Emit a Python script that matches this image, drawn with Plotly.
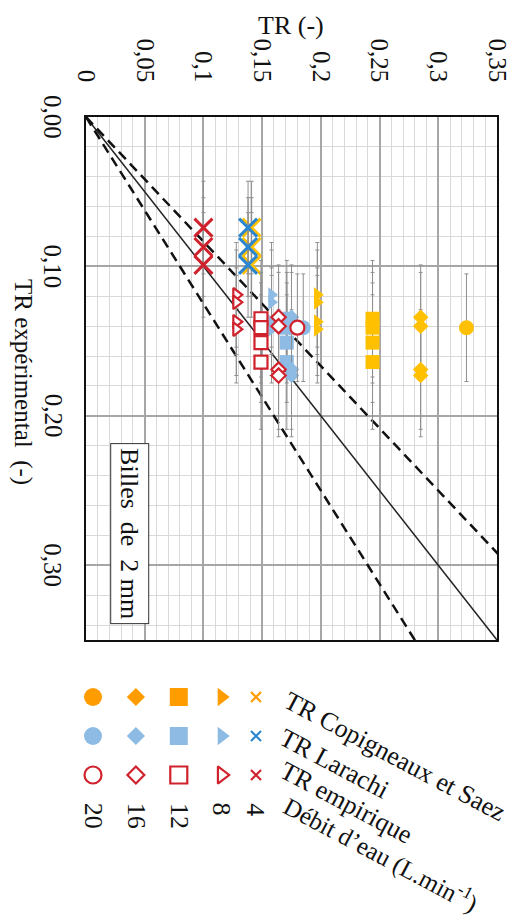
import plotly.graph_objects as go

# The page body keeps the browser's default 8 px margin, so the figure is
# sized to fill the rest of the 526x923 window.
OFF = 8
W, H = 526 - OFF, 923 - OFF
FONT = "Liberation Serif, Times New Roman, serif"

# ---------------- data ----------------
flows = [4, 8, 12, 16, 20]                     # débit d'eau (L/min)
flow_labels = ["4", "8", "12", "16", "20"]

exp_4 = [0.074, 0.087, 0.099]
exp_8 = [0.119, 0.124, 0.137, 0.142]
exp_12 = [0.135, 0.141, 0.151, 0.164]
exp_16 = [0.134, 0.140, 0.169, 0.173]
exp_20 = [0.141]

err_4 = [0.031, 0.033, 0.035]
err_8 = [0.035, 0.035, 0.036, 0.036]
err_12 = [0.039, 0.037, 0.040, 0.045]
err_16 = [0.035, 0.036, 0.040, 0.041]
err_20 = [0.036]

tr_copigneaux = [0.141, 0.197, 0.244, 0.285, 0.324]
tr_larachi = [0.138, 0.158, 0.171, 0.175, 0.185]
tr_empirique = [0.100, 0.128, 0.149, 0.164, 0.180]

model_names = ["TR Copigneaux et Saez", "TR Larachi", "TR empirique"]

tr_tickvals = [0, 0.05, 0.10, 0.15, 0.20, 0.25, 0.30, 0.35]
tr_ticktext = ["0", "0,05", "0,1", "0,15", "0,2", "0,25", "0,3", "0,35"]
exp_tickvals = [0, 0.10, 0.20, 0.30]
exp_ticktext = ["0,00", "0,10", "0,20", "0,30"]

ref_factors = [1.2, 0.8]
ref_tr = [0, 0.35]

# ---------------- styles ----------------
exp_by_flow = [exp_4, exp_8, exp_12, exp_16, exp_20]
err_by_flow = [err_4, err_8, err_12, err_16, err_20]
symbols = ["x-thin", "triangle-right", "square", "diamond", "circle"]
sizes = [18, 13, 14, 12, 15]
leg_sizes = [10, 16, 18, 14, 18]

YEL, YEL_LEG = "#FFC000", "#FF9C00"
BLUE_X, BLUE_H = "#2B86CF", "#8DBBE4"
RED = "#D0222C"
TXT = "#111"


def px_x(x):
    return (x - OFF) / W


def px_y(y):
    return 1 - (y - OFF) / H


fig = go.Figure()

# reference lines (1:1 and ±20 %)
fig.add_trace(go.Scatter(x=ref_tr, y=ref_tr, mode="lines",
                         line=dict(color="#222", width=1.5),
                         hoverinfo="skip", showlegend=False))
for f in ref_factors:
    fig.add_trace(go.Scatter(x=[0, ref_tr[1] * 1.5],
                             y=[0, ref_tr[1] * 1.5 / f], mode="lines",
                             line=dict(color="#111", width=2.5, dash="10px,6px"),
                             hoverinfo="skip", showlegend=False))


def marker_style(model, i, legend=False):
    sym = symbols[i]
    size = leg_sizes[i] if legend else sizes[i]
    lw = 2.2 if legend else 3
    if model == 0:
        c = YEL_LEG if legend else YEL
        if sym == "x-thin":
            return dict(symbol=sym, size=size, color=c, line=dict(color=c, width=lw))
        return dict(symbol=sym, size=size, color=c, line=dict(color=c, width=0))
    if model == 1:
        if sym == "x-thin":
            return dict(symbol=sym, size=size, color=BLUE_X, line=dict(color=BLUE_X, width=lw))
        return dict(symbol=sym, size=size, color=BLUE_H, line=dict(color=BLUE_H, width=0))
    if sym == "x-thin":
        return dict(symbol=sym, size=size, color=RED, line=dict(color=RED, width=lw))
    return dict(symbol=sym, size=size - 1, color="white", line=dict(color=RED, width=2.2))


models_tr = [tr_copigneaux, tr_larachi, tr_empirique]
for m, trs in enumerate(models_tr):
    for i, fl in enumerate(flows):
        ys = exp_by_flow[i]
        fig.add_trace(go.Scatter(
            x=[trs[i]] * len(ys), y=ys, mode="markers",
            marker=marker_style(m, i),
            error_y=dict(type="data", array=err_by_flow[i], color="#8f8f8f",
                         thickness=1, width=2),
            name=f"{model_names[m]} – {fl} L/min", showlegend=False))

# ---------------- custom legend (rotated chart) ----------------
col_pos = [3.8, 3, 2, 1, 0]   # columns for 4, 8, 12, 16, 20
for m in range(3):
    for i in range(len(flows)):
        fig.add_trace(go.Scatter(
            x=[col_pos[i]], y=[m], xaxis="x2", yaxis="y2", mode="markers",
            marker=marker_style(m, i, legend=True), cliponaxis=False,
            hoverinfo="skip", showlegend=False))

annotations = []
for i, lab in enumerate(flow_labels):
    annotations.append(dict(x=col_pos[i], y=2.66, xref="x2", yref="y2", text=lab,
                            textangle=90, showarrow=False, xanchor="center",
                            yanchor="top", font=dict(family=FONT, size=26, color=TXT)))

legend_texts = model_names + ["Débit d’eau (L.min<sup>-1</sup>)"]
legend_centers = [(395, 756), (334, 763), (346, 802), (381, 853)]
legend_sizes = [26, 26, 26, 25]
for t, (cx, cy), fs in zip(legend_texts, legend_centers, legend_sizes):
    annotations.append(dict(x=px_x(cx), y=px_y(cy), xref="paper", yref="paper",
                            text=t, textangle=28, showarrow=False,
                            xanchor="center", yanchor="middle",
                            font=dict(family=FONT, size=fs, color=TXT)))

# y tick labels (rotated, like the reference)
for v, t in zip(exp_tickvals, exp_ticktext):
    annotations.append(dict(x=px_x(53), y=v, xref="paper", yref="y", text=t,
                            textangle=90, showarrow=False, xanchor="center",
                            yanchor="middle", font=dict(family=FONT, size=25, color=TXT)))

# axis titles
annotations.append(dict(x=px_x(291), y=px_y(26), xref="paper", yref="paper",
                        text="TR (-)", showarrow=False, xanchor="center", yanchor="middle",
                        font=dict(family=FONT, size=26, color=TXT)))
annotations.append(dict(x=px_x(23), y=px_y(382), xref="paper", yref="paper",
                        text="TR expérimental  (-)", textangle=90, showarrow=False,
                        xanchor="center", yanchor="middle",
                        font=dict(family=FONT, size=25, color=TXT)))
# inset label
annotations.append(dict(x=0.0375, y=0.2785, xref="x", yref="y",
                        text="Billes  de  2 mm", textangle=90, showarrow=False,
                        xanchor="center", yanchor="middle", bgcolor="white",
                        bordercolor="#333", borderwidth=1, borderpad=4,
                        font=dict(family=FONT, size=26, color=TXT)))

fig.update_layout(
    width=W, height=H,
    margin=dict(l=0, r=0, t=0, b=0),
    paper_bgcolor="white", plot_bgcolor="white",
    font=dict(family=FONT, size=26, color=TXT),
    showlegend=False,
    annotations=annotations,
    xaxis=dict(domain=[px_x(86), px_x(497)], range=[0, 0.35], side="top",
               tickmode="array", tickvals=tr_tickvals, ticktext=tr_ticktext,
               tickangle=90, ticks="outside", ticklen=24, tickcolor="rgba(0,0,0,0)",
               tickfont=dict(family=FONT, size=25, color=TXT),
               showgrid=True, gridcolor="#a6a6a6", gridwidth=1.5,
               minor=dict(tickmode="linear", tick0=0, dtick=0.01, showgrid=True,
                          gridcolor="#d9d9d9", gridwidth=1),
               showline=True, linecolor="#111", linewidth=2, mirror=True,
               zeroline=False, automargin=False, fixedrange=True),
    yaxis=dict(domain=[px_y(640), px_y(117)], range=[0.35, 0],
               tickmode="array", tickvals=exp_tickvals, showticklabels=False,
               showgrid=True, gridcolor="#a6a6a6", gridwidth=1.5,
               minor=dict(tickmode="linear", tick0=0, dtick=0.02, showgrid=True,
                          gridcolor="#d9d9d9", gridwidth=1),
               showline=True, linecolor="#111", linewidth=2, mirror=True,
               zeroline=False, automargin=False, fixedrange=True),
    xaxis2=dict(domain=[px_x(93), px_x(256)], range=[0, 3.8], anchor="y2",
                visible=False, fixedrange=True),
    yaxis2=dict(domain=[px_y(814), px_y(697)], range=[3, 0], anchor="x2",
                visible=False, fixedrange=True),
)

fig.write_html("out.html")
